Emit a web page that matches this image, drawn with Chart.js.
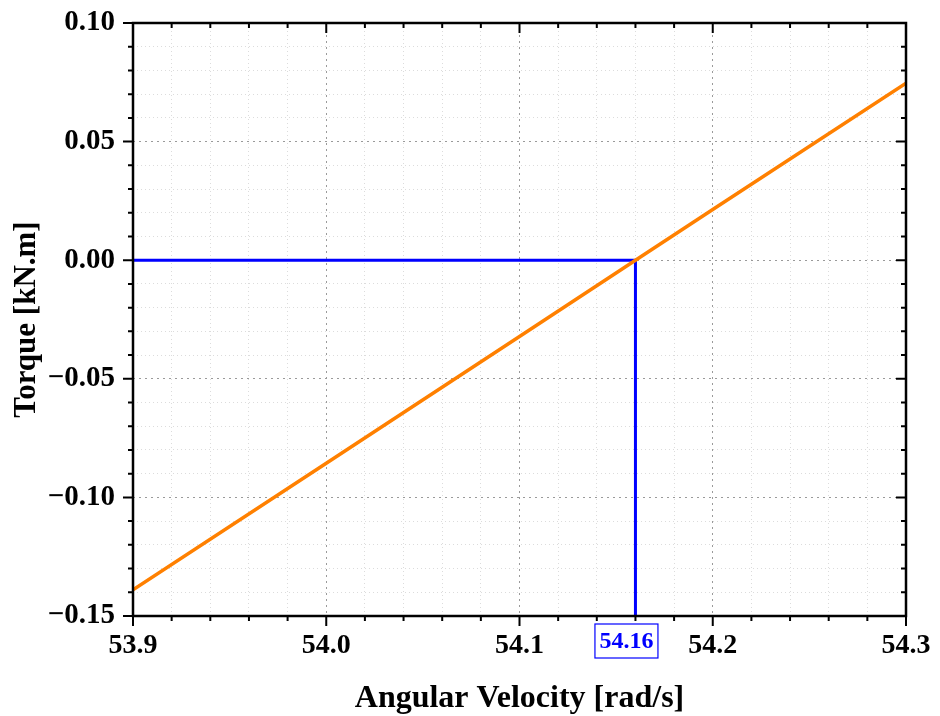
<!DOCTYPE html>
<html>
<head>
<meta charset="utf-8">
<script src="https://cdn.jsdelivr.net/npm/chart.js@4/dist/chart.umd.min.js"></script>
<style>
  html, body { margin: 0; padding: 0; background: #fff; }
  #wrap { width: 940px; height: 716px; }
</style>
</head>
<body>
<div id="wrap"><canvas id="c" width="940" height="716"></canvas></div>
<script>
// Torque vs angular velocity
const speed = [53.9, 54.0, 54.1, 54.16, 54.2, 54.3];          // rad/s
const torque = [-0.139, -0.0856, -0.0322, 0.0, 0.0214, 0.0746]; // kN.m

// Zero-torque operating point
const zeroSpeed = 54.16;
const zeroTorque = 0.0;

// Axis ranges and tick steps
const xRange = [53.9, 54.3];
const yRange = [-0.15, 0.10];
const xMajor = 0.1, xMinor = 0.02;
const yMajor = 0.05, yMinor = 0.01;

const FONT = "'Liberation Serif', 'Times New Roman', serif";

function isMajor(v, step) {
  const r = v / step;
  return Math.abs(r - Math.round(r)) < 1e-6;
}

// Tick marks (major/minor, outer on left/bottom, inner on top/right) and frame
const frameTicks = {
  id: 'frameTicks',
  afterDatasetsDraw(chart) {
    const { ctx, chartArea: a, scales } = chart;
    ctx.save();
    ctx.strokeStyle = '#000';
    ctx.lineWidth = 2;
    ctx.beginPath();
    scales.x.ticks.forEach(t => {
      const px = scales.x.getPixelForValue(t.value);
      const len = isMajor(t.value, xMajor) ? 10 : 5;
      ctx.moveTo(px, a.bottom); ctx.lineTo(px, a.bottom + len);
      ctx.moveTo(px, a.top); ctx.lineTo(px, a.top + len);
    });
    scales.y.ticks.forEach(t => {
      const py = scales.y.getPixelForValue(t.value);
      const len = isMajor(t.value, yMajor) ? 10 : 5;
      ctx.moveTo(a.left, py); ctx.lineTo(a.left - len, py);
      ctx.moveTo(a.right, py); ctx.lineTo(a.right - len, py);
    });
    ctx.stroke();
    ctx.lineWidth = 2.5;
    ctx.strokeRect(a.left, a.top, a.right - a.left, a.bottom - a.top);

    // boxed value of the zero-torque speed under the axis
    const px = scales.x.getPixelForValue(zeroSpeed) - 9;
    const text = zeroSpeed.toFixed(2);
    ctx.font = `bold 24px ${FONT}`;
    const w = ctx.measureText(text).width;
    const bw = w + 9, bh = 34;
    const by = a.bottom + 8;
    ctx.fillStyle = '#fff';
    ctx.fillRect(px - bw / 2, by, bw, bh);
    ctx.lineWidth = 1.2;
    ctx.strokeStyle = '#0000ff';
    ctx.strokeRect(px - bw / 2, by, bw, bh);
    ctx.fillStyle = '#0000ff';
    ctx.textAlign = 'center';
    ctx.textBaseline = 'middle';
    ctx.fillText(text, px, by + bh / 2 + 1);
    ctx.restore();
  }
};

new Chart(document.getElementById('c'), {
  type: 'scatter',
  data: {
    datasets: [
      {
        label: 'Zero torque',
        data: [
          { x: xRange[0], y: zeroTorque },
          { x: zeroSpeed, y: zeroTorque },
          { x: zeroSpeed, y: yRange[0] }
        ],
        showLine: true,
        borderColor: '#0000ff',
        borderWidth: 3,
        pointRadius: 0,
        tension: 0,
        order: 2
      },
      {
        label: 'Torque',
        data: speed.map((s, i) => ({ x: s, y: torque[i] })),
        showLine: true,
        borderColor: '#ff8000',
        borderWidth: 3.5,
        pointRadius: 0,
        tension: 0,
        order: 1
      }
    ]
  },
  options: {
    responsive: false,
    animation: false,
    devicePixelRatio: 1,
    layout: { padding: { top: 23, right: 34, left: 0, bottom: 0 } },
    plugins: { legend: { display: false }, tooltip: { enabled: false } },
    scales: {
      x: {
        type: 'linear',
        min: xRange[0], max: xRange[1],
        afterFit(s) { s.height = 100; s.paddingLeft = 0; s.paddingRight = 0; },
        ticks: {
          stepSize: xMinor,
          autoSkip: false,
          maxRotation: 0,
          padding: 13,
          color: '#000',
          font: { family: FONT, size: 28, weight: 'bold' },
          callback: v => isMajor(v, xMajor) ? v.toFixed(1) : ''
        },
        grid: {
          drawTicks: false,
          color: c => isMajor(c.tick.value, xMajor) ? '#9a9a9a' : '#dcdcdc',
          lineWidth: 1
        },
        border: { display: false, dash: c => isMajor(c.tick.value, xMajor) ? [2, 4] : [1, 3] },
        title: {
          display: true,
          text: 'Angular Velocity [rad/s]',
          color: '#000',
          font: { family: FONT, size: 32, weight: 'bold' },
          padding: { top: 0, bottom: -2 }
        }
      },
      y: {
        type: 'linear',
        min: yRange[0], max: yRange[1],
        afterFit(s) { s.width = 133; s.paddingTop = 0; s.paddingBottom = 0; },
        ticks: {
          stepSize: yMinor,
          autoSkip: false,
          padding: 18,
          color: '#000',
          font: { family: FONT, size: 29, weight: 'bold' },
          callback: v => {
            if (!isMajor(v, yMajor)) return '';
            const s = Math.abs(v).toFixed(2);
            return v < -1e-9 ? '\u2212' + s : s;
          }
        },
        grid: {
          drawTicks: false,
          color: c => isMajor(c.tick.value, yMajor) ? '#9a9a9a' : '#dcdcdc',
          lineWidth: 1
        },
        border: { display: false, dash: c => isMajor(c.tick.value, yMajor) ? [2, 4] : [1, 3] },
        title: {
          display: true,
          text: 'Torque [kN.m]',
          color: '#000',
          font: { family: FONT, size: 31, weight: 'bold' },
          padding: { top: 8, bottom: 0 }
        }
      }
    }
  },
  plugins: [frameTicks]
});
</script>
</body>
</html>
